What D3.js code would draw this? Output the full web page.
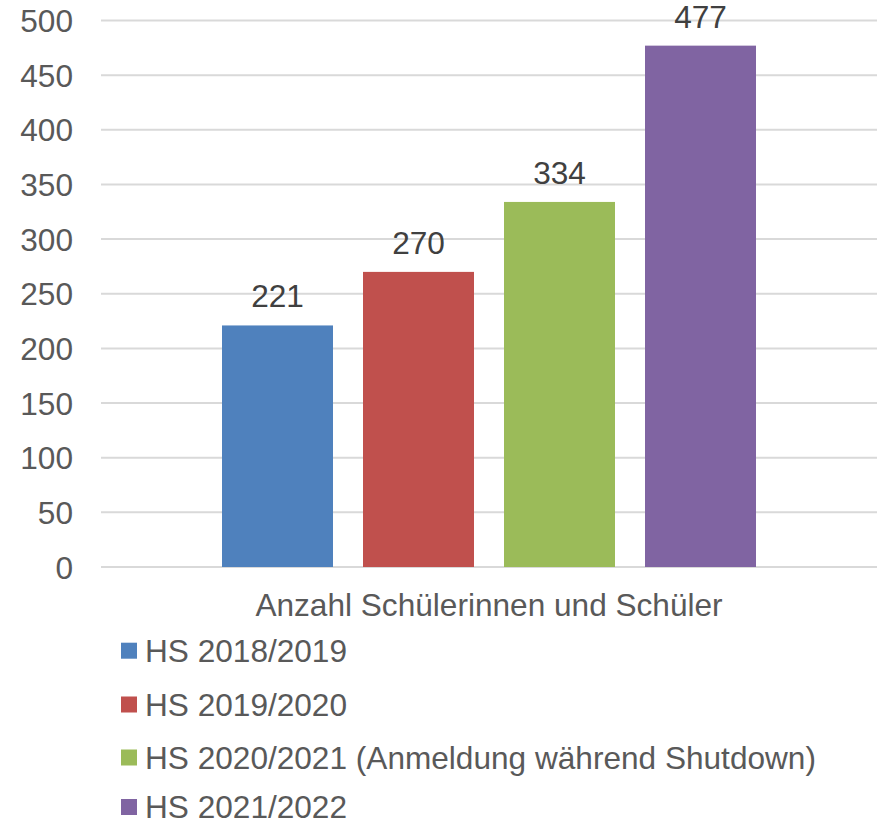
<!DOCTYPE html>
<html>
<head>
<meta charset="utf-8">
<script src="https://cdn.jsdelivr.net/npm/d3@7"></script>
<style>
  html, body { margin: 0; padding: 0; background: #ffffff; }
  svg { display: block; }
  text { font-family: "Liberation Sans", Arial, sans-serif; }
</style>
</head>
<body>
<svg id="chart" width="877" height="825"></svg>
<script>
const seriesNames = ["HS 2018/2019", "HS 2019/2020", "HS 2020/2021 (Anmeldung während Shutdown)", "HS 2021/2022"];
const seriesValues = [221, 270, 334, 477];
const seriesColors = ["#4f81bd", "#c0504d", "#9bbb59", "#8064a2"];
const categories = ["Anzahl Schülerinnen und Schüler"];
const yTicks = [0, 50, 100, 150, 200, 250, 300, 350, 400, 450, 500];

(function () {
const svg = d3.select("#chart");
const mLeft = 101, mRight = 877, mTop = 20.5, mBottom = 567;
const fontSize = 31.6;

const y = d3.scaleLinear().domain([0, 500]).range([mBottom, mTop]);
const x0 = d3.scaleBand().domain(categories).range([mLeft, mRight]).paddingInner(0).paddingOuter(0);
const innerW = 534;
const x1 = d3.scaleBand().domain(d3.range(seriesValues.length))
  .range([0, innerW]).paddingInner(30 / 141).paddingOuter(0);

// gridlines
svg.append("g").selectAll("line").data(yTicks).join("line")
  .attr("x1", mLeft).attr("x2", mRight)
  .attr("y1", d => y(d)).attr("y2", d => y(d))
  .attr("stroke", "#d9d9d9").attr("stroke-width", 2);

// y axis labels
const yAxis = d3.axisLeft(y).tickValues(yTicks).tickSize(0).tickPadding(0);
const gy = svg.append("g").attr("transform", `translate(73,0)`).call(yAxis);
gy.select(".domain").remove();
gy.selectAll("text")
  .attr("fill", "#595959").attr("font-size", fontSize)
  .attr("font-family", "'Liberation Sans', Arial, sans-serif")
  .attr("x", 0).attr("dy", "0.35em");

// bars
const catX = x0(categories[0]) + (x0.bandwidth() - innerW) / 2;
const g = svg.append("g").attr("transform", `translate(${catX},0)`);
g.selectAll("rect").data(seriesValues).join("rect")
  .attr("x", (d, i) => x1(i))
  .attr("width", x1.bandwidth())
  .attr("y", d => y(d))
  .attr("height", d => y(0) - y(d))
  .attr("fill", (d, i) => seriesColors[i]);

// data labels
g.selectAll("text.lbl").data(seriesValues).join("text")
  .attr("class", "lbl")
  .attr("x", (d, i) => x1(i) + x1.bandwidth() / 2)
  .attr("y", d => y(d) - 18)
  .attr("text-anchor", "middle")
  .attr("font-size", fontSize)
  .attr("fill", "#404040")
  .text(d => d);

// category axis label
const xAxis = d3.axisBottom(x0).tickSize(0).tickPadding(0);
const gx = svg.append("g").attr("transform", `translate(0,${mBottom})`).call(xAxis);
gx.select(".domain").remove();
gx.selectAll("text")
  .attr("fill", "#595959").attr("font-size", fontSize)
  .attr("font-family", "'Liberation Sans', Arial, sans-serif")
  .attr("dy", null).attr("y", 49);

// legend
const legendY = [661.7, 715.5, 768.5, 818];
const lg = svg.append("g");
const items = lg.selectAll("g").data(seriesNames).join("g")
  .attr("transform", (d, i) => `translate(0,${legendY[i]})`);
items.append("rect")
  .attr("x", 121).attr("y", -19).attr("width", 16).attr("height", 16)
  .attr("fill", (d, i) => seriesColors[i]);
items.append("text")
  .attr("x", 145).attr("y", 0)
  .attr("font-size", fontSize).attr("fill", "#595959")
  .text(d => d);
})();
</script>
</body>
</html>
